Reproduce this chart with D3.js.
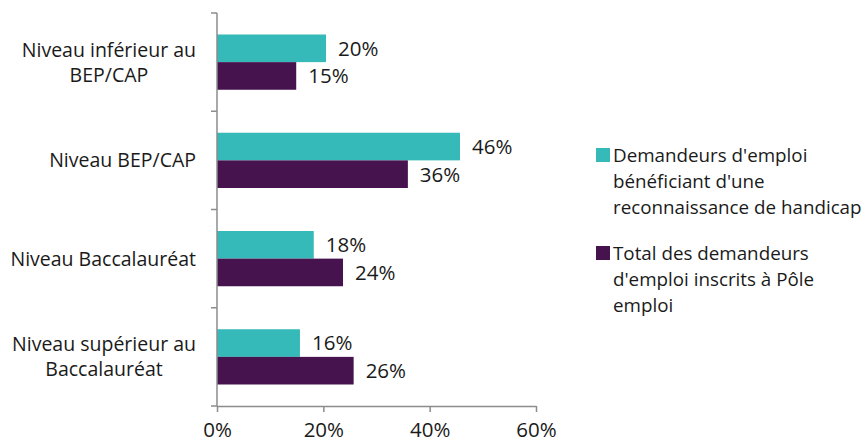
<!DOCTYPE html>
<html>
<head>
<meta charset="utf-8">
<script src="https://cdn.jsdelivr.net/npm/d3@7"></script>
<style>
  body { margin: 0; background: #fff; }
  svg text { font-family: "Open Sans", "Noto Sans", sans-serif; fill: #1a1a1a; }
</style>
</head>
<body>
<svg id="chart" width="867" height="445"></svg>
<script>
// Education levels (top to bottom)
const categories = [
  ["Niveau inférieur au", "BEP/CAP"],
  ["Niveau BEP/CAP"],
  ["Niveau Baccalauréat"],
  ["Niveau supérieur au", "Baccalauréat"]
];
const categoryKeys = ["inf", "bep", "bac", "sup"];

// Series values, in %
const handicapValues = [20.5, 45.7, 18.2, 15.6];
const totalValues = [14.9, 35.9, 23.7, 25.7];
const handicapLabels = ["20%", "46%", "18%", "16%"];
const totalLabels = ["15%", "36%", "24%", "26%"];

const seriesNames = [
  ["Demandeurs d'emploi", "bénéficiant d'une", "reconnaissance de handicap"],
  ["Total des demandeurs", "d'emploi inscrits à Pôle", "emploi"]
];
const seriesColors = ["#35b9b9", "#46134f"];

const xTicks = [0, 20, 40, 60];

const svg = d3.select("#chart");
const FONT = 19.5;
const LEGEND_FONT = 18.8;
const NUM_FONT = 20.5;

const x = d3.scaleLinear().domain([0, 60]).range([217, 536]);
const y = d3.scaleBand().domain(categoryKeys).range([13, 406]).paddingInner(0).paddingOuter(0);
const inner = d3.scaleBand().domain([0, 1]).range([21.5, y.bandwidth() - 21.5]);

const series = [
  { values: handicapValues, labels: handicapLabels },
  { values: totalValues, labels: totalLabels }
];

// bars
series.forEach((s, si) => {
  svg.append("g")
    .selectAll("rect")
    .data(categoryKeys)
    .enter()
    .append("rect")
    .attr("x", x(0))
    .attr("y", (k) => y(k) + inner(si))
    .attr("width", (k, i) => x(s.values[i]) - x(0))
    .attr("height", inner.bandwidth())
    .attr("fill", seriesColors[si]);

  // value labels
  svg.append("g")
    .selectAll("text")
    .data(categoryKeys)
    .enter()
    .append("text")
    .attr("x", (k, i) => x(s.values[i]) + 12)
    .attr("y", (k) => y(k) + inner(si) + inner.bandwidth() / 2)
    .attr("dy", "0.36em")
    .style("font-size", NUM_FONT + "px")
    .text((k, i) => s.labels[i]);
});

// y axis with ticks between categories
const axisColor = "#8c8c8c";
svg.append("line")
  .attr("x1", x(0)).attr("x2", x(0))
  .attr("y1", y.range()[0]).attr("y2", y.range()[1])
  .attr("stroke", axisColor).attr("stroke-width", 1.5);
const boundaries = categoryKeys.map((k) => y(k)).concat([y.range()[1]]);
svg.append("g")
  .selectAll("line")
  .data(boundaries)
  .enter()
  .append("line")
  .attr("x1", x(0) - 6).attr("x2", x(0))
  .attr("y1", (d) => d).attr("y2", (d) => d)
  .attr("stroke", axisColor).attr("stroke-width", 1.5);

// x axis
const xAxis = d3.axisBottom(x)
  .tickValues(xTicks)
  .tickFormat((d) => d + "%")
  .tickSizeInner(6)
  .tickSizeOuter(0)
  .tickPadding(10);
const gx = svg.append("g")
  .attr("transform", `translate(0, ${y.range()[1]})`)
  .call(xAxis);
gx.select(".domain").attr("stroke", axisColor).attr("stroke-width", 1.5);
gx.selectAll(".tick line").attr("stroke", axisColor).attr("stroke-width", 1.5);
gx.selectAll(".tick text")
  .style("font-size", NUM_FONT + "px")
  .style("font-family", '"Open Sans", "Noto Sans", sans-serif')
  .attr("fill", "#1a1a1a");

// category labels: block right-aligned to the axis, lines centred inside it
const lineH = 25;
const labelRight = 196;
categoryKeys.forEach((k, i) => {
  const lines = categories[i];
  const cy = y(k) + y.bandwidth() / 2;
  const t = svg.append("text")
    .attr("text-anchor", "middle")
    .style("font-size", FONT + "px");
  const spans = lines.map((line, li) =>
    t.append("tspan")
      .attr("y", cy + (li - (lines.length - 1) / 2) * lineH)
      .attr("dy", "0.36em")
      .text(line)
  );
  const maxW = d3.max(spans, (sp) => sp.node().getComputedTextLength());
  spans.forEach((sp) => sp.attr("x", labelRight - maxW / 2));
});

// legend
const legendTop = [155, 253];
seriesNames.forEach((lines, si) => {
  svg.append("rect")
    .attr("x", 596).attr("y", legendTop[si] - 7)
    .attr("width", 14).attr("height", 14)
    .attr("fill", seriesColors[si]);
  const t = svg.append("text").style("font-size", LEGEND_FONT + "px");
  lines.forEach((line, li) => {
    t.append("tspan")
      .attr("x", 613)
      .attr("y", legendTop[si] + li * 26)
      .attr("dy", "0.36em")
      .text(line);
  });
});
</script>
</body>
</html>
